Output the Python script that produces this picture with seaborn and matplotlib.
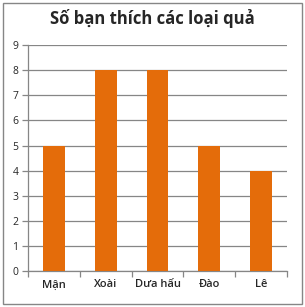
import matplotlib
matplotlib.use("Agg")
import matplotlib.pyplot as plt
import seaborn as sns
import pandas as pd
from matplotlib.patches import Rectangle

fruits = ["Mận", "Xoài", "Dưa hấu", "Đào", "Lê"]
counts = [5, 8, 8, 5, 4]
title = "Số bạn thích các loại quả"

df = pd.DataFrame({"fruit": fruits, "count": counts})

sns.set_style("white")
plt.rcParams['font.family'] = ['Open Sans', 'DejaVu Sans']

fig = plt.figure(figsize=(3.05, 3.07), dpi=100)
ax = fig.add_axes([0.092, 0.117, 0.849, 0.736])

sns.barplot(data=df, x="fruit", y="count", color="#E46C0A", width=0.42,
            saturation=1, edgecolor="none", linewidth=0, ax=ax, zorder=3)

ax.set_ylim(0, 9)
ax.set_xlim(-0.5, len(fruits) - 0.5)
ax.set_yticks(range(0, 10))
ax.yaxis.grid(True, color="#868686", linewidth=0.9, zorder=0)
ax.set_axisbelow(True)
ax.set_xlabel("")
ax.set_ylabel("")

ax.tick_params(axis="x", which="major", length=0, pad=6, labelsize=8)
ax.set_xticks([i - 0.5 for i in range(len(fruits) + 1)], minor=True)
ax.tick_params(axis="x", which="minor", length=4, color="#868686", width=0.9)
ax.tick_params(axis="y", length=4, color="#868686", width=0.9, labelsize=7.5, pad=3)
ax.yaxis.set_ticks_position("left")
ax.xaxis.set_ticks_position("bottom")
for lbl in ax.get_xticklabels():
    lbl.set_fontweight("semibold")

for s in ["top", "right"]:
    ax.spines[s].set_visible(False)
for s in ["left", "bottom"]:
    ax.spines[s].set_color("#868686")
    ax.spines[s].set_linewidth(0.9)

fig.text(0.5, 0.94, title, ha="center", va="center", fontsize=12, fontweight="bold")

fig.patches.append(Rectangle((0.01, 0.01), 0.98, 0.98, transform=fig.transFigure,
                             fill=False, edgecolor="#868686", linewidth=1))

fig.savefig("out.png", dpi=100)
